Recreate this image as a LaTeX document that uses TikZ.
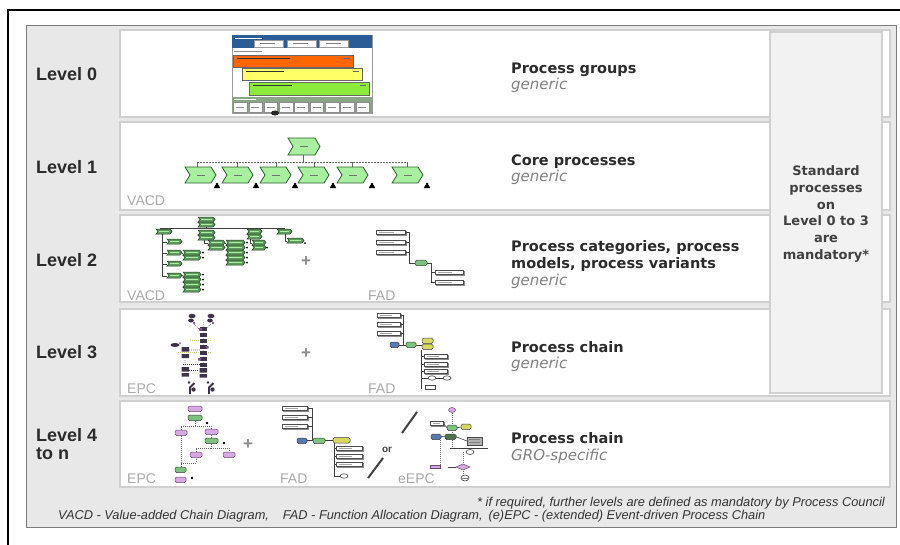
\documentclass[tikz,border=0pt]{standalone}
\usepackage{fontspec}
\setmainfont{Liberation Sans}
\newfontfamily\headfont{DejaVu Sans}
\usetikzlibrary{shapes.geometric}

\definecolor{panelgray}{HTML}{E8E8E8}
\definecolor{panelline}{HTML}{7C7C7C}
\definecolor{rowline}{HTML}{D0D0D0}
\definecolor{colfill}{HTML}{F2F2F2}
\definecolor{tagtext}{HTML}{A9A9A9}
\definecolor{subtext}{HTML}{808080}
\definecolor{titletext}{HTML}{2B2B2B}
\definecolor{chevfill}{HTML}{A8F0A0}
\definecolor{chevline}{HTML}{2F5F2F}
\definecolor{minifill}{HTML}{5E9A5E}
\definecolor{minidark}{HTML}{1F3F1F}
\definecolor{evfill}{HTML}{D8A8E4}
\definecolor{evline}{HTML}{6A4A72}
\definecolor{fnfill}{HTML}{7CC47C}
\definecolor{orgblue}{HTML}{5878B0}
\definecolor{infoyellow}{HTML}{D8D860}
\definecolor{barblue}{HTML}{2C5C96}
\definecolor{barorange}{HTML}{FF6600}
\definecolor{baryellow}{HTML}{FFFF66}
\definecolor{bargreen}{HTML}{8CEB3A}
\definecolor{stripgreen}{HTML}{8AA585}
\definecolor{epcdark}{HTML}{3E3347}
\definecolor{epcpurple}{HTML}{7A5A8A}
\definecolor{epcline}{HTML}{C8D87A}

% value-added chain arrow: x, y, width, height
\newcommand\bigchev[4]{%
  \draw[chevline, fill=chevfill, line width=0.8]
    (#1,#2) -- ++(#3-5,0) -- ++(5,#4/2) -- ++(-5,#4/2) -- ++(5-#3,0) -- ++(5,-#4/2) -- cycle;
  \draw[black!55, line width=0.6] (#1+#3/2-4,#2+#4/2) -- ++(8,0);}
% small chain arrow: x, y, width
\newcommand\minichev[3]{%
  \draw[minidark, fill=minifill, line width=0.5]
    (#1,#2) -- ++(#3-2,0) -- ++(2,2.5) -- ++(-2,2.5) -- ++(2-#3,0) -- ++(2,-2.5) -- cycle;
  \draw[chevfill, line width=0.5] (#1+3,#2+2.5) -- ++(#3-6,0);}
% document box with shadow: x, y, width
\newcommand\docbox[3]{%
  \draw[black!45, fill=black!25, line width=0.4] (#1+1,#2+1) rectangle ++(#3,4.5);
  \draw[black!70, fill=white, line width=0.5] (#1,#2) rectangle ++(#3,4.5);
  \draw[black!35, line width=0.4] (#1+3,#2+2.25) -- ++(#3/2,0);}
% organisational unit icon: x, y (bottom centre)
\newcommand\persona[2]{%
  \fill[black] (#1-3.2,#2) -- (#1+3.2,#2) -- (#1+1.6,#2-3) -- (#1-1.6,#2-3) -- cycle;
  \fill[black] (#1,#2-4) circle (1.5);}
% event: x, y, width
\newcommand\evt[3]{\draw[evline, fill=evfill, line width=0.5, rounded corners=1.5] (#1,#2) rectangle ++(#3,5.5);}
% function: x, y, width, fill
\newcommand\fnc[4]{\draw[black!75, fill=#4, line width=0.5, rounded corners=1.5] (#1,#2) rectangle ++(#3,5.5);}

\begin{document}
\begin{tikzpicture}[x=1pt,y=-1pt,
  levellabel/.style={font=\fontsize{18}{16}\selectfont\bfseries, text=titletext, anchor=base west, inner sep=0pt},
  rowtitle/.style={font=\headfont\bfseries\fontsize{14.5}{18}\selectfont, text=titletext, anchor=base west, inner sep=0pt},
  rowsub/.style={font=\headfont\itshape\fontsize{15}{18}\selectfont, text=subtext, anchor=base west, inner sep=0pt},
  tag/.style={font=\fontsize{14}{16}\selectfont, text=tagtext, anchor=base west, inner sep=0pt},
  plussign/.style={font=\bfseries\fontsize{17}{17}\selectfont, text=black!45, inner sep=0pt},
  rowbox/.style={draw=rowline, fill=white, line width=1.5},
  note/.style={font=\itshape\fontsize{12.8}{14}\selectfont, text=black!80, inner sep=0pt},
  wire/.style={black!75, line width=0.6},
  dotwire/.style={black!60, line width=0.7, dash pattern=on 0.8pt off 1.2pt}
]
\useasboundingbox (0,0) rectangle (900,544);
\fill[white] (0,0) rectangle (900,544);

% outer frame
\draw[black, line width=2] (8,545) -- (8,10) -- (901,10);

% grey panel
\draw[panelline, fill=panelgray, line width=1] (26,25) rectangle (896,527);

% level rows
\draw[rowbox] (120,30) rectangle (890,117);
\draw[rowbox] (120,122) rectangle (890,210);
\draw[rowbox] (120,215) rectangle (890,302);
\draw[rowbox] (120,309) rectangle (890,396);
\draw[rowbox] (120,401) rectangle (890,487);

% mandatory column
\draw[draw=rowline, fill=colfill, line width=1.5] (770,32) rectangle (882,393);
\node[font=\headfont\bfseries\fontsize{13}{16.8}\selectfont, text=titletext!90, align=center, inner sep=0pt] (std) at (826,214)
  {Standard\\processes\\on\\Level 0 to 3\\are\\mandatory*};

% level labels
\node[levellabel] (l0) at (36,80) {Level 0};
\node[levellabel] (l1) at (36,173) {Level 1};
\node[levellabel] (l2) at (36,266) {Level 2};
\node[levellabel] (l3) at (36,358) {Level 3};
\node[levellabel] (l4) at (36,441) {Level 4};
\node[levellabel] (l4b) at (36,459) {to n};

% row descriptions
\node[rowtitle] (d0) at (511,73) {Process groups};
\node[rowsub] (g0) at (511,89) {generic};
\node[rowtitle] (d1) at (511,165) {Core processes};
\node[rowsub] (g1) at (511,181) {generic};
\node[rowtitle] (d2) at (511,251) {Process categories, process};
\node[rowtitle] (d2b) at (511,268) {models, process variants};
\node[rowsub] (g2) at (511,285) {generic};
\node[rowtitle] (d3) at (511,352) {Process chain};
\node[rowsub] (g3) at (511,368) {generic};
\node[rowtitle] (d4) at (511,443) {Process chain};
\node[rowsub] (g4) at (511,460) {GRO-specific};

% model type tags
\node[tag] (t1) at (127,205) {VACD};
\node[tag] (t2a) at (127,300) {VACD};
\node[tag] (t2b) at (368,300) {FAD};
\node[tag] (t3a) at (127,393) {EPC};
\node[tag] (t3b) at (368,393) {FAD};
\node[tag] (t4a) at (127,483) {EPC};
\node[tag] (t4b) at (280,483) {FAD};
\node[tag] (t4c) at (398,483) {eEPC};

\node[plussign] (p2) at (306,262) {+};
\node[plussign] (p3) at (306,354) {+};
\node[plussign] (p4) at (248,445) {+};
\draw[black!75, line width=2] (402,433) -- (417,412);
\draw[black!75, line width=2] (368,478) -- (383,458);
\node[font=\bfseries\fontsize{10}{10}\selectfont, text=black!75, inner sep=0pt] (or) at (387,450) {or};

% ---- level 0: process group map
\draw[black!40, fill=white, line width=0.6] (232,35) rectangle (372,113);
\fill[barblue] (232,35) rectangle (372,48);
\foreach \a in {254,287,319} {\draw[black!40, fill=white, line width=0.5] (\a,40) rectangle ++(29,7);}
\foreach \a in {260,293,326} {\draw[black!50, line width=0.4] (\a,43.5) -- ++(15,0);}
\draw[white, line width=0.6] (235,37.8) -- (262,37.8);
\draw[black!45, line width=0.6] (234,51.5) -- (262,51.5);
\draw[black!60, fill=barorange, line width=0.5] (233,55) rectangle (353,67);
\draw[black!60, fill=baryellow, line width=0.5] (242,68) rectangle (362,80);
\draw[black!60, fill=bargreen, line width=0.5] (249,82) rectangle (369,95);
\draw[black!80, line width=0.6] (237,58.5) -- (290,58.5);
\draw[black!80, line width=0.6] (246,71.5) -- (284,71.5);
\draw[black!80, line width=0.6] (253,85.5) -- (292,85.5);
\draw[black!60, line width=0.5] (344,58.5) -- (350,58.5) (353,71.5) -- (359,71.5) (360,85.5) -- (366,85.5);
\fill[stripgreen] (232,97) rectangle (372,113);
\draw[white, line width=0.6] (234,99.3) -- (256,99.3);
\foreach \i in {0,...,8} {
  \draw[black!45, fill=white, line width=0.5] (233.5+\i*15.3,102) rectangle ++(13.5,10);
  \draw[black!45, line width=0.4] (236+\i*15.3,107) -- ++(8,0);}
\fill[black!85] (275,113) ellipse (4 and 2.5);

% ---- level 1: core process chain
\bigchev{288}{138}{32}{17}
\draw[black!60, line width=0.8] (303,155) -- (303,162);
\draw[black!60, line width=1, dash pattern=on 1.5pt off 1.5pt] (197,162) -- (407,162);
\foreach \x in {197,237,276,314,352,407} {\draw[black!60, line width=0.7] (\x,162) -- (\x,167);}
\foreach \x in {185,222,260,298,337,392} {\bigchev{\x}{167}{31}{16}}
\foreach \x in {217,256,295,333,372,427} {\persona{\x}{188}}

% ---- level 2: value-added chain tree
\begin{scope}[yshift=-2pt]
\draw[wire] (160,226) -- (285,226);
\draw[wire] (206,225) -- (206,226);
\draw[wire] (162,232) -- (162,274);
\foreach \y in {240,251,262,274} {\draw[wire] (162,\y) -- (167,\y);}
\draw[wire] (182,251) -- (183,251) (182,273) -- (183,273);
\draw[wire] (204,238) -- (204,241) -- (208,241);
\draw[wire] (225,241) -- (226,241);
\draw[wire] (250,237) -- (250,241) -- (252,241);
\draw[wire] (285,232) -- (285,239) -- (287,239);
\minichev{198}{215}{17}
\minichev{198}{220}{17}
\minichev{156}{227}{16}
\minichev{198}{228}{17}
\minichev{198}{233}{17}
\minichev{247}{227}{15}
\minichev{247}{232}{15}
\minichev{277}{227}{15}
\minichev{287}{236}{17}
\foreach \y in {237,248,259,271} {\minichev{167}{\y}{15}}
\foreach \y in {248,253} {\minichev{183}{\y}{18}}
\foreach \y in {270,275,280,285} {\minichev{183}{\y}{18}}
\foreach \y in {238,243} {\minichev{208}{\y}{17}}
\foreach \y in {238,243,248,253,258} {\minichev{226}{\y}{19}}
\foreach \y in {238,243} {\minichev{252}{\y}{14}}
\foreach \y in {250.5,255.5,272.5,277.5,282.5,287.5} {\fill[black] (203,\y) circle (1);}
\foreach \y in {240.5,245.5,250.5,255.5,260.5} {\fill[black] (247,\y) circle (1);}
\fill[black] (267,245.5) circle (1) (305,241) circle (1);
\end{scope}

% ---- level 2: function allocation
\docbox{376}{230}{29}
\docbox{376}{240}{29}
\docbox{376}{250}{29}
\draw[wire] (405,232.25) -- (409,232.25) (405,242.25) -- (409,242.25) (405,252.25) -- (409,252.25);
\draw[wire] (409,232.25) -- (409,263) -- (415,263);
\fnc{415}{260.2}{12}{fnfill}
\draw[wire] (427,263) -- (431,263) -- (431,282.25) -- (435,282.25) (431,272.25) -- (435,272.25);
\docbox{435}{270}{28}
\docbox{435}{280}{28}

% ---- level 3: event-driven process chain
\draw[epcline, line width=0.8, dash pattern=on 1pt off 1pt] (203,322) -- (203,376);
\draw[epcline, line width=0.6, dash pattern=on 1pt off 1pt] (178,352) -- (212,352) (190,340) -- (212,340);
\draw[epcpurple, line width=0.6, dash pattern=on 1pt off 1pt] (194,324) -- (200,330) (211,324) -- (205,330) (185,360) -- (185,366) (185,350) -- (200,350);
\foreach \x in {192,211} {
  \fill[epcdark] (\x,316) ellipse (3.5 and 2.2);
  \fill[epcdark] (\x-1,320.5) ellipse (2.8 and 2);
  \fill[epcpurple] (\x+2,323) circle (1.4);}
\foreach \y in {327,333,339,345,351,357,363} {\fill[epcdark] (199.5,\y) rectangle ++(7.5,4);}
\fill[epcpurple] (199,328) rectangle ++(3,2.5) (205.5,346) rectangle ++(3,2.5) (198,358) rectangle ++(3,2.5);
\fill[epcdark] (175,345) ellipse (4.5 and 2);
\fill[epcpurple] (180,343) circle (1);
\fill[epcdark] (181.5,347) rectangle ++(7.5,4.5) (181.5,354) rectangle ++(7.5,4);
\fill[epcdark] (181.5,367) rectangle ++(7.5,4.5) (181.5,373) rectangle ++(7.5,3.5) (199.5,368) rectangle ++(7.5,4.5) (199.5,374) rectangle ++(7.5,3.5);
\draw[epcdark, line width=0.6, dash pattern=on 1pt off 1pt] (189,370) -- (199,370) (183,364) -- (207,364);
\foreach \x in {192,211} {
  \draw[epcdark, line width=1.8] (\x+2.5,383) -- (\x-2,387.5) -- (\x-2,394);
  \fill[epcdark] (\x+1.5,389.5) circle (2.2);
  \fill[epcdark] (\x-3,382.5) circle (1.4);}

% ---- level 3: function allocation
\docbox{377}{313}{23}
\docbox{377}{322}{23}
\docbox{377}{331}{23}
\draw[wire] (400,315.25) -- (403,315.25) (400,324.25) -- (403,324.25) (400,333.25) -- (403,333.25);
\draw[wire] (403,315.25) -- (403,345) -- (406,345) (399,345) -- (406,345) (416,345) -- (422,345);
\fnc{390}{342}{9}{orgblue}
\fnc{406}{342}{10}{fnfill}
\fnc{422}{338}{11}{infoyellow}
\fnc{422}{344}{11}{infoyellow}
\draw[wire] (421,350) -- (421,389);
\foreach \y in {354,362,369} {\draw[wire] (421,\y+2.25) -- (424,\y+2.25); \docbox{424}{\y}{23}}
\draw[wire] (421,378) -- (443,378);
\draw[black!75, fill=white, line width=0.6] (432,378) ellipse (4 and 2.2) (447,378) ellipse (4 and 2.2);
\draw[black!75, fill=white, line width=0.5] (425,385) rectangle ++(10,4);

% ---- level 4: event-driven process chain
\draw[dotwire] (195,421) -- (195,426) -- (181,426) -- (181,430) (195,426) -- (211,426) -- (211,429);
\draw[dotwire] (211,435) -- (211,438) (211,444) -- (211,448) -- (196,448) -- (196,452) (211,448) -- (229,448) -- (229,452);
\draw[dotwire] (181,436) -- (181,467) (181,463) -- (196,463) -- (196,458);
\evt{188}{406}{14}
\fnc{188}{415}{14}{fnfill}
\fill[black] (207,423) circle (1.3);
\evt{175}{430}{12}
\evt{205}{429}{13}
\fnc{205}{438}{13}{fnfill}
\fill[black] (224,443) circle (1.3);
\evt{190}{452}{12}
\evt{223}{452}{12}
\fnc{175}{467}{11}{fnfill}
\evt{175}{477}{11}
\fill[black] (192,478) circle (1.3);

% ---- level 4: function allocation
\docbox{282}{406}{25}
\docbox{282}{415}{25}
\docbox{282}{424}{25}
\draw[wire] (307,408.25) -- (312,408.25) (307,417.25) -- (312,417.25) (307,426.25) -- (312,426.25);
\draw[wire] (312,408.25) -- (312,440.75) -- (313,440.75) (307,440.75) -- (313,440.75) (325,440.75) -- (333,440.75);
\fnc{297}{438}{10}{orgblue}
\fnc{313}{438}{12}{fnfill}
\fnc{333}{437.5}{17}{infoyellow}
\draw[wire] (334,443) -- (334,476) -- (340,476);
\foreach \y in {446,454,462} {\draw[wire] (334,\y+2.25) -- (336,\y+2.25); \docbox{336}{\y}{26}}
\draw[black!75, fill=white, line width=0.6] (344,476) ellipse (4 and 2.2);

% ---- level 4: extended event-driven process chain
\draw[dotwire] (452,413) -- (452,425) (440,440) -- (440,466) (452,430) -- (452,448) (463,452) -- (463,464) (463,471) -- (463,475);
\draw[evline, fill=evfill, line width=0.5] (452,410) ellipse (3.5 and 2.5);
\docbox{430}{421}{13}
\fnc{447}{425}{10}{fnfill}
\fnc{461}{424}{10}{infoyellow}
\draw[wire] (443,423.25) -- (447,427.75) (457,427.75) -- (461,427);
\fnc{431}{434}{10}{orgblue}
\fnc{445}{434}{11}{fnfill!60!black}
\draw[wire] (441,436.75) -- (445,436.75) (456,436.75) -- (467,441);
\draw[black!70, fill=black!30, line width=0.5] (467,437) rectangle (482,445);
\draw[black!50, line width=0.4] (469,439.5) -- (480,439.5) (469,442.5) -- (480,442.5);
\draw[wire] (450,448) -- (488,448);
\draw[black!75, fill=white, line width=0.6] (470,452) ellipse (4 and 2.5);
\draw[evline, fill=evfill, line width=0.5] (430,465) rectangle ++(10,3.5);
\draw[evline, fill=evfill, line width=0.5] (456,467) -- (463,464) -- (470,467) -- (463,470) -- cycle;
\draw[wire] (456,467) -- (448,467);
\draw[black!75, fill=white, line width=0.6] (465,478) ellipse (4 and 3);
\draw[black!50, line width=0.4] (462,478) -- (468,478);

% notes
\node[note, anchor=base east] (fn) at (885,506) {* if required, further levels are defined as mandatory by Process Council};
\node[note, anchor=base west] (abbr) at (58,519) {VACD - Value-added Chain Diagram,\hspace{14pt}FAD - Function Allocation Diagram,\hspace{6pt}(e)EPC - (extended) Event-driven Process Chain};
\end{tikzpicture}
\end{document}
